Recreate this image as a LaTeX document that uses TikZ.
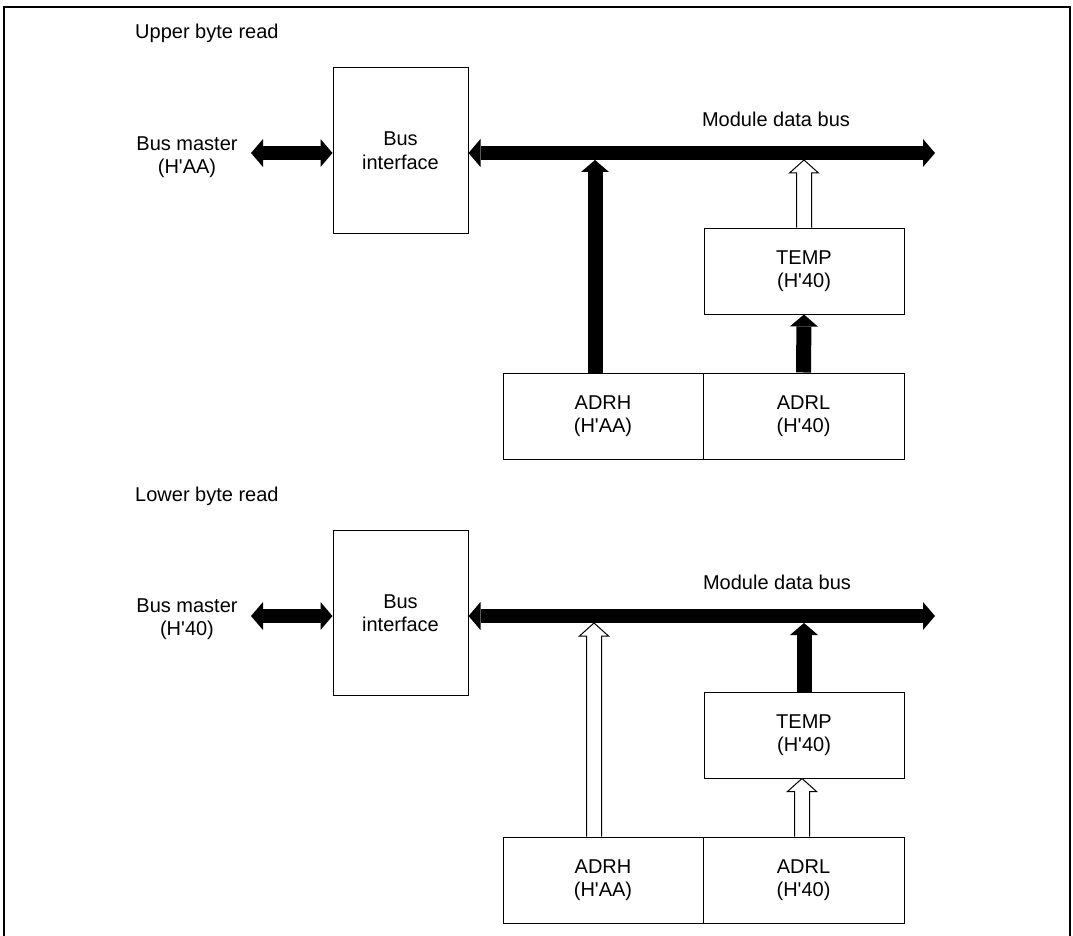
\documentclass[tikz,border=0pt]{standalone}
\usepackage{fontspec}
\setmainfont{Liberation Sans}[Ligatures=TeXOff]
\usetikzlibrary{arrows.meta,calc}
\tikzset{
  txt/.style={font=\fontsize{20}{23.5}\selectfont, align=center, inner sep=0pt},
  blk/.style={draw, line width=1pt, rectangle, inner sep=0pt, minimum width=#1,
    font=\fontsize{20}{23.5}\selectfont, align=center},
  fatbus/.style={line width=14pt,
    {Triangle[width=28pt,length=12pt,line width=0pt]}-{Triangle[width=28pt,length=12pt,line width=0pt]}},
  fatup/.style={line width=15pt, -{Triangle[width=28pt,length=12pt,line width=0pt]}},
  hollow/.style={draw, line width=1pt, fill=white, line join=miter},
  frame/.style={line width=2.5pt}
}
\newcommand\hollowup[2]{%
  \draw[hollow] let \p1=(#1), \p2=(#2) in
    (\x1-7.5pt,\y1) -- (\x1-7.5pt,\y2-13pt) -- (\x1-14.5pt,\y2-13pt) -- (\x1,\y2)
    -- (\x1+14.5pt,\y2-13pt) -- (\x1+7.5pt,\y2-13pt) -- (\x1+7.5pt,\y1);}
\begin{document}
\begin{tikzpicture}[x=1pt,y=-1pt]
\useasboundingbox (0,0) rectangle (1073,936);
\draw[frame] (4,940) -- (4,7) -- (1070,7) -- (1070,940);

% ---------- Upper byte read ----------
\node[txt, anchor=west] (title1) at (135,33) {Upper byte read};
\node[blk=135pt, minimum height=165pt] (bi1) at (400.5,150.5) {Bus\\interface};
\node[txt] (bm1) at (187,157) {Bus master\\(H'AA)};
\node[txt] (mdb1) at (776,119) {Module data bus};
\node[blk=200pt, minimum height=86pt] (temp1) at (804,271) {TEMP\\(H'40)};
\node[blk=200pt, minimum height=86pt] (adrh1) at (603,416) {ADRH\\(H'AA)};
\node[blk=201pt, minimum height=86pt] (adrl1) at (803.5,416) {ADRL\\(H'40)};
\coordinate (busR1) at (935,153);
\coordinate (busbot1) at (935,160);
\coordinate (bmA1) at (251,153);

\draw[fatbus] (bmA1) -- (bi1.west |- busR1);
\draw[fatbus] (bi1.east |- busR1) -- (busR1);
\draw[fatup] ([xshift=-8pt]adrh1.north) -- ([xshift=-8pt]adrh1.north |- busbot1);
\draw[fatup] (adrl1.north) -- (temp1.south);
\hollowup{temp1.north}{busbot1}

% ---------- Lower byte read ----------
\node[txt, anchor=west] (title2) at (135,496) {Lower byte read};
\node[blk=135pt, minimum height=165pt] (bi2) at (400.5,613) {Bus\\interface};
\node[txt] (bm2) at (187,619) {Bus master\\(H'40)};
\node[txt] (mdb2) at (777,582) {Module data bus};
\node[blk=200pt, minimum height=86pt] (temp2) at (804,735) {TEMP\\(H'40)};
\node[blk=200pt, minimum height=86pt] (adrh2) at (603,880) {ADRH\\(H'AA)};
\node[blk=201pt, minimum height=86pt] (adrl2) at (803.5,880) {ADRL\\(H'40)};
\coordinate (busR2) at (935,616);
\coordinate (busbot2) at (935,623);
\coordinate (bmA2) at (251,616);

\draw[fatbus] (bmA2) -- (bi2.west |- busR2);
\draw[fatbus] (bi2.east |- busR2) -- (busR2);
\hollowup{[xshift=-9pt]adrh2.north}{busbot2}
\hollowup{[xshift=-1.5pt]adrl2.north}{temp2.south}
\draw[fatup] (temp2.north) -- (temp2.north |- busbot2);
\end{tikzpicture}
\end{document}
